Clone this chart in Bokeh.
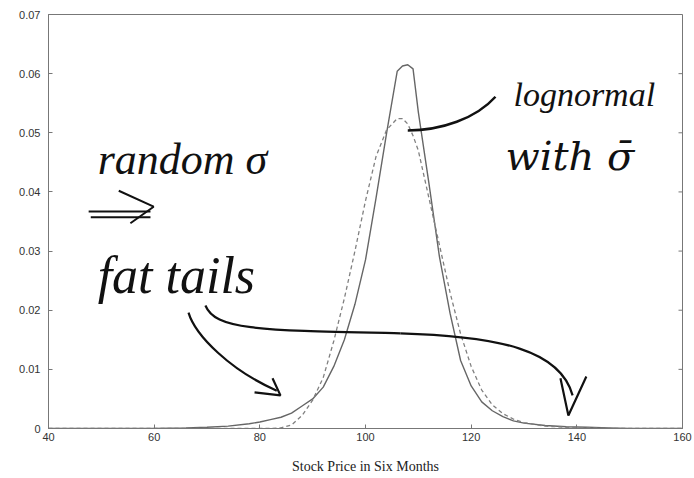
from bokeh.plotting import figure
from bokeh.models import FixedTicker, CustomJSTickFormatter, Range1d
from bokeh.core.properties import value
from bokeh.embed import file_html
from bokeh.resources import INLINE

# ---- data ----
price = [40, 50, 60, 66, 70, 74, 78, 80, 82, 84, 86, 88, 90, 92, 94, 96, 98, 100,
         102, 104, 106, 107, 108, 109, 110, 112, 114, 116, 118, 120, 122, 124, 126,
         128, 130, 134, 138, 142, 146, 150, 160]
random_sigma = [0.0, 0.0, 0.0, 0.0001, 0.0002, 0.0004, 0.0008, 0.0011, 0.0015, 0.0019,
                0.0026, 0.0038, 0.0050, 0.0070, 0.0105, 0.0150, 0.0210, 0.0285,
                0.0390, 0.0500, 0.0604, 0.0613, 0.0615, 0.0608, 0.0535, 0.0415,
                0.0290, 0.0195, 0.0115, 0.0072, 0.0045, 0.0030, 0.0020, 0.0013,
                0.0009, 0.0005, 0.0003, 0.0002, 0.0001, 0.0, 0.0]
lognormal = [0.0, 0.0, 0.0, 0.0, 0.0, 0.0, 0.0, 0.0, 0.0, 0.0001, 0.0006, 0.0022,
             0.0048, 0.0086, 0.0148, 0.0220, 0.0300, 0.0385, 0.0460, 0.0505, 0.0524,
             0.0524, 0.0515, 0.0495, 0.0470, 0.0390, 0.0310, 0.0230, 0.0160, 0.0105,
             0.0065, 0.0040, 0.0025, 0.0016, 0.0010, 0.0004, 0.0002, 0.0001, 0.0,
             0.0, 0.0]
x_ticks = [40, 60, 80, 100, 120, 140, 160]
y_ticks = [0, 0.01, 0.02, 0.03, 0.04, 0.05, 0.06, 0.07]
x_label = "Stock Price in Six Months"
notes = ["random σ", "fat tails", "lognormal", "with σ̄"]

FRAME = "#777777"
CURVE = "#666666"
INK = "#111111"
X0, X1 = 40, 160

p = figure(frame_width=634, frame_height=414,
           x_range=Range1d(X0, X1), y_range=Range1d(0, 0.07),
           output_backend="svg", toolbar_location=None,
           min_border_left=48, min_border_right=12,
           min_border_top=14, min_border_bottom=50)
p.background_fill_color = "white"
p.border_fill_color = "white"
p.xgrid.visible = False
p.ygrid.visible = False
p.outline_line_color = FRAME
p.outline_line_width = 1

xa = p.xaxis[0]
xa.ticker = FixedTicker(ticks=x_ticks)
xa.major_tick_in = 4
xa.major_tick_out = 0
xa.minor_tick_line_color = None
xa.axis_line_color = FRAME
xa.major_tick_line_color = FRAME
xa.major_label_text_font = "Liberation Sans"
xa.major_label_text_font_size = "11px"
xa.major_label_text_color = "#333333"
xa.major_label_standoff = 4
xa.axis_label = x_label
xa.axis_label_text_font = "Liberation Serif"
xa.axis_label_text_font_style = "normal"
xa.axis_label_text_font_size = "14px"
xa.axis_label_text_color = "#222222"
xa.axis_label_standoff = 15

ya = p.yaxis[0]
ya.ticker = FixedTicker(ticks=y_ticks)
ya.formatter = CustomJSTickFormatter(code="return tick < 1e-9 ? '0' : tick.toFixed(2);")
ya.major_tick_in = 4
ya.major_tick_out = 0
ya.minor_tick_line_color = None
ya.axis_line_color = FRAME
ya.major_tick_line_color = FRAME
ya.major_label_text_font = "Liberation Sans"
ya.major_label_text_font_size = "11px"
ya.major_label_text_color = "#333333"
ya.major_label_standoff = 8

# inward ticks on the right frame edge (4 px long)
tick_len = 4 * (X1 - X0) / 634
p.segment(x0=[X1] * len(y_ticks), y0=y_ticks,
          x1=[X1 - tick_len] * len(y_ticks), y1=y_ticks,
          line_color=FRAME, line_width=1)

# curves
p.line(price, random_sigma, line_color=CURVE, line_width=1.4)
p.line(price, lognormal, line_color="#808080", line_width=1.3, line_dash="4 3")

# handwritten annotations
def txt(x, y, s, size, font="Liberation Serif"):
    p.text(x=[x], y=[y], text=[s], text_font=value(font),
           text_font_style="italic", text_font_size=size, text_color=INK,
           text_baseline="alphabetic", text_align="left")

txt(49.3, 0.0455, notes[0], "44px")
txt(49.3, 0.0258, notes[1], "52px")
txt(128.0, 0.0565, notes[2], "34px")
txt(126.5, 0.0460, notes[3], "40px", "DejaVu Serif")

# double arrow
p.multi_line(xs=[[47.6, 59.3], [48.0, 59.3], [53.3, 59.9, 55.5]],
             ys=[[0.0367, 0.0367], [0.0357, 0.0357], [0.0402, 0.0375, 0.0347]],
             line_color=INK, line_width=2)

# arrows
p.bezier(x0=[66.5], y0=[0.0196], x1=[83.2], y1=[0.0064],
         cx0=[67.8], cy0=[0.0157], cx1=[74.5], cy1=[0.0098],
         line_color=INK, line_width=2.2)
p.multi_line(xs=[[82.4, 83.9, 79.0]], ys=[[0.0085, 0.0056, 0.0061]],
             line_color=INK, line_width=2.2)

p.bezier(x0=[69.7, 106.6], y0=[0.0208, 0.0161], x1=[106.6, 139.2], y1=[0.0161, 0.0056],
         cx0=[71.6, 125.6], cy0=[0.0166, 0.0156], cx1=[80.1, 136.9], cy1=[0.0166, 0.0132],
         line_color=INK, line_width=2.2)
p.multi_line(xs=[[136.9, 138.4, 141.8]], ys=[[0.0085, 0.0022, 0.0088]],
             line_color=INK, line_width=2.2)

p.bezier(x0=[108.0], y0=[0.0504], x1=[124.6], y1=[0.0561],
         cx0=[114.3], cy0=[0.0504], cx1=[120.9], cy1=[0.0524],
         line_color=INK, line_width=2.5)

open("out.html", "w").write(file_html(p, INLINE))
